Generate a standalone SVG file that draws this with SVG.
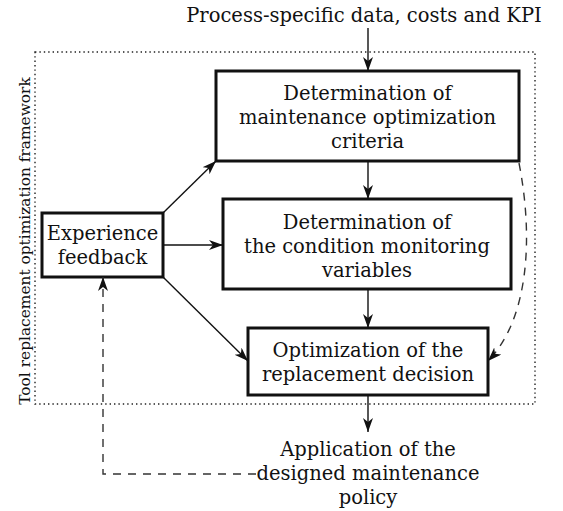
<svg xmlns="http://www.w3.org/2000/svg" width="563" height="511" viewBox="0 0 563 511">
<style>
text{font-family:'DejaVu Serif',serif;font-size:19.5px;fill:#111;text-anchor:middle}
.lbl{font-size:15.4px}
.box{fill:#fff;stroke:#111;stroke-width:3}
.c{fill:none;stroke:#111;stroke-width:1.4}
.d{fill:none;stroke:#333;stroke-width:1.4;stroke-dasharray:8 7}
.frame{fill:none;stroke:#222;stroke-width:1.4;stroke-dasharray:1.4 3}
</style>
<defs>
<marker id="ah" markerUnits="userSpaceOnUse" markerWidth="16" markerHeight="12" refX="14" refY="5" orient="auto">
<path d="M0,0 L14,5 L0,10 L4,5 z" fill="#111"/>
</marker>
</defs>
<rect class="frame" x="35" y="52" width="500" height="352"/>
<text class="lbl" x="0" y="0" transform="translate(30,241) rotate(-90)">Tool replacement optimization framework</text>
<text x="364" y="22">Process-specific data, costs and KPI</text>
<g id="criteria">
<rect class="box" x="216" y="71" width="303" height="90"/>
<text x="367.5" y="100">Determination of</text>
<text x="367.5" y="124">maintenance optimization</text>
<text x="367.5" y="148">criteria</text>
</g>
<g id="variables">
<rect class="box" x="223" y="199" width="288" height="90"/>
<text x="367" y="229">Determination of</text>
<text x="367" y="253">the condition monitoring</text>
<text x="367" y="277">variables</text>
</g>
<g id="decision">
<rect class="box" x="248" y="328" width="240" height="67"/>
<text x="368" y="357">Optimization of the</text>
<text x="368" y="381">replacement decision</text>
</g>
<g id="feedback">
<rect class="box" x="42" y="213" width="121" height="64"/>
<text x="102.5" y="240">Experience</text>
<text x="102.5" y="264">feedback</text>
</g>
<g id="application">
<text x="368" y="456">Application of the</text>
<text x="368" y="480">designed maintenance</text>
<text x="368" y="504">policy</text>
</g>
<g id="connectors">
<path class="c" d="M368,28 V71" marker-end="url(#ah)"/>
<path class="c" d="M368,161 V199" marker-end="url(#ah)"/>
<path class="c" d="M368,289 V328" marker-end="url(#ah)"/>
<path class="c" d="M368,395 V432" marker-end="url(#ah)"/>
<path class="c" d="M163,213 L216,161" marker-end="url(#ah)"/>
<path class="c" d="M163,245 H223" marker-end="url(#ah)"/>
<path class="c" d="M163,277 L248,361" marker-end="url(#ah)"/>
<path class="d" d="M519,163 C534,240 528,320 488,361" marker-end="url(#ah)"/>
<path class="d" d="M256,474 H103 V277" marker-end="url(#ah)"/>
</g>
</svg>
